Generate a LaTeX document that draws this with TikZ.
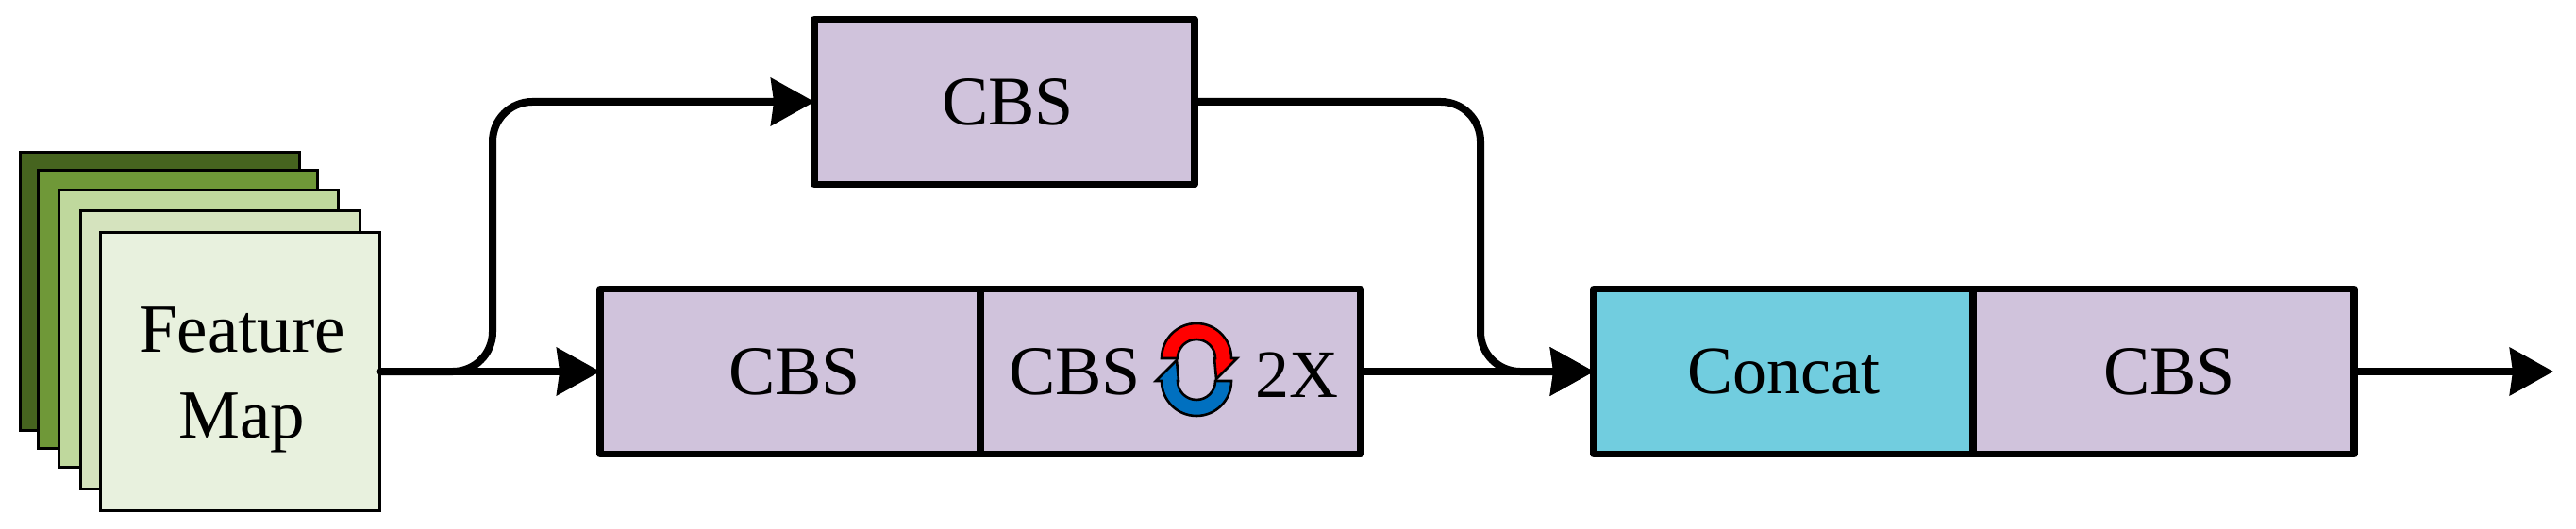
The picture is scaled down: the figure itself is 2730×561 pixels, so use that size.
\documentclass[tikz,border=0pt]{standalone}
\usepackage{fontspec}
\setmainfont{Liberation Serif}
\usetikzlibrary{arrows.meta}
\definecolor{boxpurple}{HTML}{D0C3DC}
\definecolor{boxcyan}{HTML}{71CDDF}
\definecolor{gA}{HTML}{46641F}
\definecolor{gB}{HTML}{6F9838}
\definecolor{gC}{HTML}{BFD89D}
\definecolor{gD}{HTML}{D5E3BE}
\definecolor{gE}{HTML}{E8F1DE}
\definecolor{iconred}{HTML}{FF0000}
\definecolor{iconblue}{HTML}{0070C0}
\tikzset{
  sheet/.style={draw=black,line width=3pt,minimum width=296pt,minimum height=294pt,inner sep=0pt},
  block/.style={draw=black,line width=7.7pt,line join=round,minimum width=#1,minimum height=175pt,inner sep=0pt,font=\fontsize{72}{86}\selectfont},
  txt/.style={inner sep=0pt,font=\fontsize{74}{91}\selectfont},
  conn/.style={line width=8pt,line join=round,shorten >=-4pt,-{Stealth[length=46pt,width=50pt,inset=3pt]}},
  iconarc/.style={draw=black,line width=2.6pt,line join=miter}
}
\begin{document}
\begin{tikzpicture}[x=1pt,y=1pt]
\useasboundingbox (0,0) rectangle (2730,-561);
% stacked sheets
\node[sheet,fill=gA] (s1) at (169,-309) {};
\node[sheet,fill=gB] (s2) at (188,-328) {};
\node[sheet,fill=gC] (s3) at (210.5,-348.5) {};
\node[sheet,fill=gD] (s4) at (233.5,-371) {};
\node[sheet,fill=gE] (s5) at (254,-394) {};
\node[txt,align=center,font=\fontsize{73}{91}\selectfont] (fmt) at (256.5,-403) {Feature\\Map};
% blocks
\node[block=403pt,fill=boxpurple] (top) at (1064.5,-108) {};
\node[block=403pt,fill=boxpurple] (b1) at (837.5,-394) {};
\node[block=403pt,fill=boxpurple] (b2) at (1240.5,-394) {};
\node[block=402pt,fill=boxcyan] (cc) at (1890,-394) {Concat};
\node[block=404pt,fill=boxpurple] (c2) at (2293,-394) {};
\node[txt] (topt) at (1068,-108) {CBS};
\node[txt] (b1t) at (842,-394) {CBS};
\node[txt] (c2t) at (2299,-394) {CBS};
\node[txt] (b2a) at (1139,-394) {CBS};
\node[txt,font=\fontsize{72}{88}\selectfont] (b2b) at (1374.5,-398) {2X};
% cycle icon
\path[iconarc,fill=iconred] (1231,-380) arc[start angle=180,end angle=0,radius=37]
  -- (1311,-380) -- (1289,-402) -- (1287,-380) -- (1288,-380)
  arc[start angle=0,end angle=180,radius=20] -- cycle;
\path[iconarc,fill=iconblue] (1305,-404) arc[start angle=0,end angle=-180,radius=37]
  -- (1225,-404) -- (1247,-382) -- (1249,-404) -- (1248,-404)
  arc[start angle=180,end angle=360,radius=20] -- cycle;
% connectors
\coordinate (u1) at (522,-394);
\coordinate (u2) at (522,-108);
\coordinate (v1) at (1569,-108);
\coordinate (v2) at (1569,-394);
\coordinate (endp) at (2702,-394);
\draw[conn,line cap=round] (s5.east) -- (b1.west);
\draw[conn,rounded corners=42pt] (s5.east) -- (u1) -- (u2) -- (top.west);
\draw[conn,rounded corners=42pt] (top.east) -- (v1) -- (v2) -- (cc.west);
\draw[conn] (b2.east) -- (cc.west);
\draw[conn] (c2.east) -- (endp);
\end{tikzpicture}
\end{document}
